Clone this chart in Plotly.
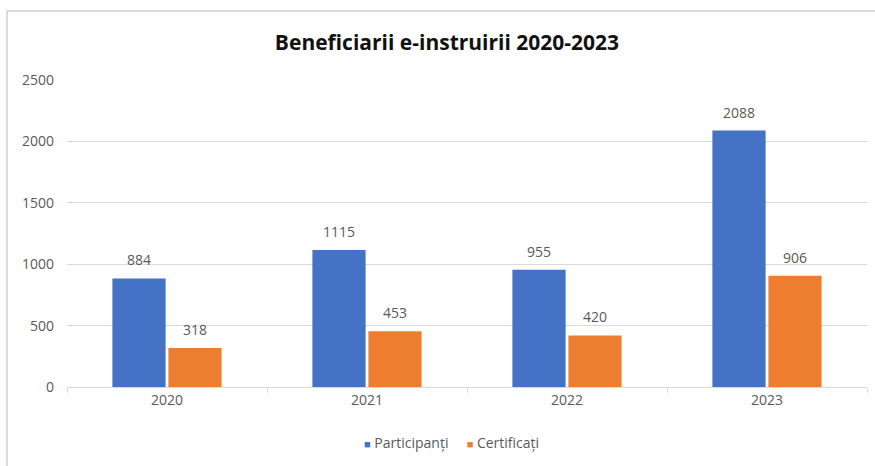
import plotly.graph_objects as go

years = ["2020", "2021", "2022", "2023"]
participanti = [884, 1115, 955, 2088]
certificati = [318, 453, 420, 906]
series_names = ["Participanți", "Certificați"]
colors = ["#4472C4", "#ED7D31"]
title_text = "Beneficiarii e-instruirii 2020-2023"
y_ticks = [0, 500, 1000, 1500, 2000, 2500]

FONT = "Open Sans"
GRAY = "#595959"

fig = go.Figure()
for name, vals, col in zip(series_names, [participanti, certificati], colors):
    fig.add_trace(go.Bar(x=years, y=vals, name=name, marker=dict(color=col, line=dict(width=0)),
                         hoverinfo="x+y+name", showlegend=False))

bargap = 0.44
bargroupgap = 0.05
slot = (1 - bargap) / 2
offsets = [-slot / 2, slot / 2]
annotations = []
for vals, off in zip([participanti, certificati], offsets):
    for i, v in enumerate(vals):
        annotations.append(dict(x=i + off, y=v, xref="x", yref="y", text=str(v), showarrow=False,
                                yanchor="bottom", yshift=7,
                                font=dict(family=FONT, size=14, color=GRAY)))

# custom legend (small squares close to the text, like the original)
legend_parts = []
for name, col in zip(series_names, colors):
    legend_parts.append('<span style="color:%s;font-size:11px">■</span> %s' % (col, name))
annotations.append(dict(xref="paper", yref="paper", x=(451 - 67) / 800, y=(387.5 - 443) / 307.5,
                        xanchor="center", yanchor="middle", showarrow=False,
                        text="     ".join(legend_parts),
                        font=dict(family=FONT, size=14, color=GRAY)))

fig.update_layout(
    width=875, height=466,
    paper_bgcolor="white", plot_bgcolor="white",
    margin=dict(l=67, r=8, t=80, b=78.5),
    barmode="group", bargap=bargap, bargroupgap=bargroupgap,
    font=dict(family=FONT, size=14, color=GRAY),
    title=dict(text="<b>" + title_text + "</b>", xref="container", yref="container",
               x=447 / 875, xanchor="center", y=1 - 43 / 466, yanchor="middle",
               font=dict(family=FONT, size=21, color="#111111")),
    showlegend=False,
    annotations=annotations,
    shapes=[dict(type="rect", xref="paper", yref="paper",
                 x0=-60 / 800, x1=1.05, y0=-0.5, y1=1 + 69 / 307.5,
                 line=dict(color="#D0D0D0", width=1.5), layer="below")],
)
fig.update_xaxes(type="category", showgrid=False, showline=True, linecolor="#D9D9D9", linewidth=1,
                 ticks="outside", tickson="boundaries", ticklen=5, tickcolor="#D9D9D9",
                 tickfont=dict(family=FONT, size=14, color=GRAY))
fig.update_yaxes(range=[0, 2500], tickvals=y_ticks, showgrid=True, gridcolor="#D9D9D9", gridwidth=1,
                 zeroline=False, showline=False, ticks="", ticklabelstandoff=12,
                 tickfont=dict(family=FONT, size=14, color=GRAY))

fig.write_html("out.html", config={"displayModeBar": False},
               post_script="document.body.style.margin='0';")
